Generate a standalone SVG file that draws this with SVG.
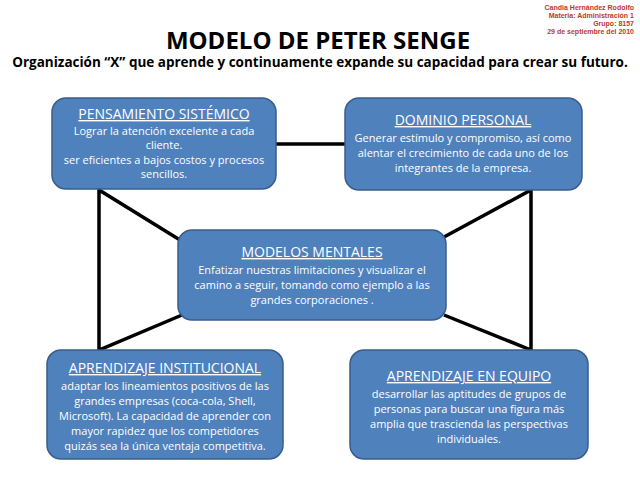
<svg xmlns="http://www.w3.org/2000/svg" width="640" height="480" viewBox="0 0 640 480">
<style>
.box{fill:#4f81bd;stroke:#385d8a;stroke-width:1.5}
.t{font-family:"Open Sans","Liberation Sans",sans-serif;fill:#fff;text-anchor:middle;font-size:11px}
.h{font-size:14px;text-decoration:underline}
.c{stroke:#000;stroke-width:3.5;fill:none;stroke-linejoin:miter}
.r{font-family:"Liberation Sans",Arial,sans-serif;font-size:7px;font-weight:bold;fill:#c0392b;text-anchor:end}
</style>
<rect width="640" height="480" fill="#fff"/>
<text class="r" x="634" y="10">Candia Hernández Rodolfo</text>
<text class="r" x="634" y="18">Materia: Administración 1</text>
<text class="r" x="634" y="26">Grupo: 8157</text>
<text class="r" x="634" y="34">29 de septiembre del 2010</text>
<text x="318" y="49" font-family="'Open Sans','Liberation Sans',sans-serif" font-size="24" font-weight="bold" text-anchor="middle" fill="#000">MODELO DE PETER SENGE</text>
<text x="320" y="67" font-family="'Open Sans','Liberation Sans',sans-serif" font-size="13.5" font-weight="bold" text-anchor="middle" fill="#000">Organización “X” que aprende y continuamente expande su capacidad para crear su futuro.</text>
<g id="connectors">
<line class="c" x1="276" y1="144" x2="345" y2="144"/>
<polyline class="c" points="180,240 99,190 99,350 182,315"/>
<polyline class="c" points="444,237 531,190 531,350 444,315"/>
</g>
<g id="ps">
<rect class="box" x="52" y="98" width="224" height="91" rx="14"/>
<text class="t h" x="164" y="119">PENSAMIENTO SISTÉMICO</text>
<text class="t" x="164" y="135">Lograr la atención excelente a cada</text>
<text class="t" x="164" y="149">cliente.</text>
<text class="t" x="164" y="164">ser eficientes a bajos costos y procesos</text>
<text class="t" x="164" y="178">sencillos.</text>
</g>
<g id="dp">
<rect class="box" x="345" y="98" width="237" height="92" rx="14"/>
<text class="t h" x="463" y="125">DOMINIO PERSONAL</text>
<text class="t" x="463" y="142">Generar estímulo y compromiso, así como</text>
<text class="t" x="463" y="157">alentar el crecimiento de cada uno de los</text>
<text class="t" x="463" y="172">integrantes de la empresa.</text>
</g>
<g id="mm">
<rect class="box" x="178" y="230" width="268" height="90" rx="14"/>
<text class="t h" x="312" y="257">MODELOS MENTALES</text>
<text class="t" x="312" y="274">Enfatizar nuestras limitaciones y visualizar el</text>
<text class="t" x="312" y="289">camino a seguir, tomando como ejemplo a las</text>
<text class="t" x="312" y="304">grandes corporaciones .</text>
</g>
<g id="ai">
<rect class="box" x="47" y="350" width="236" height="109" rx="14"/>
<text class="t h" x="165" y="373">APRENDIZAJE INSTITUCIONAL</text>
<text class="t" x="165" y="390">adaptar los lineamientos positivos de las</text>
<text class="t" x="165" y="405">grandes empresas (coca-cola, Shell,</text>
<text class="t" x="165" y="420">Microsoft). La capacidad de aprender con</text>
<text class="t" x="165" y="435">mayor rapidez que los competidores</text>
<text class="t" x="165" y="450">quizás sea la única ventaja competitiva.</text>
</g>
<g id="ae">
<rect class="box" x="350" y="350" width="238" height="109" rx="14"/>
<text class="t h" x="469" y="381">APRENDIZAJE EN EQUIPO</text>
<text class="t" x="469" y="398">desarrollar las aptitudes de grupos de</text>
<text class="t" x="469" y="413">personas para buscar una figura más</text>
<text class="t" x="469" y="428">amplia que trascienda las perspectivas</text>
<text class="t" x="469" y="443">individuales.</text>
</g>
</svg>
